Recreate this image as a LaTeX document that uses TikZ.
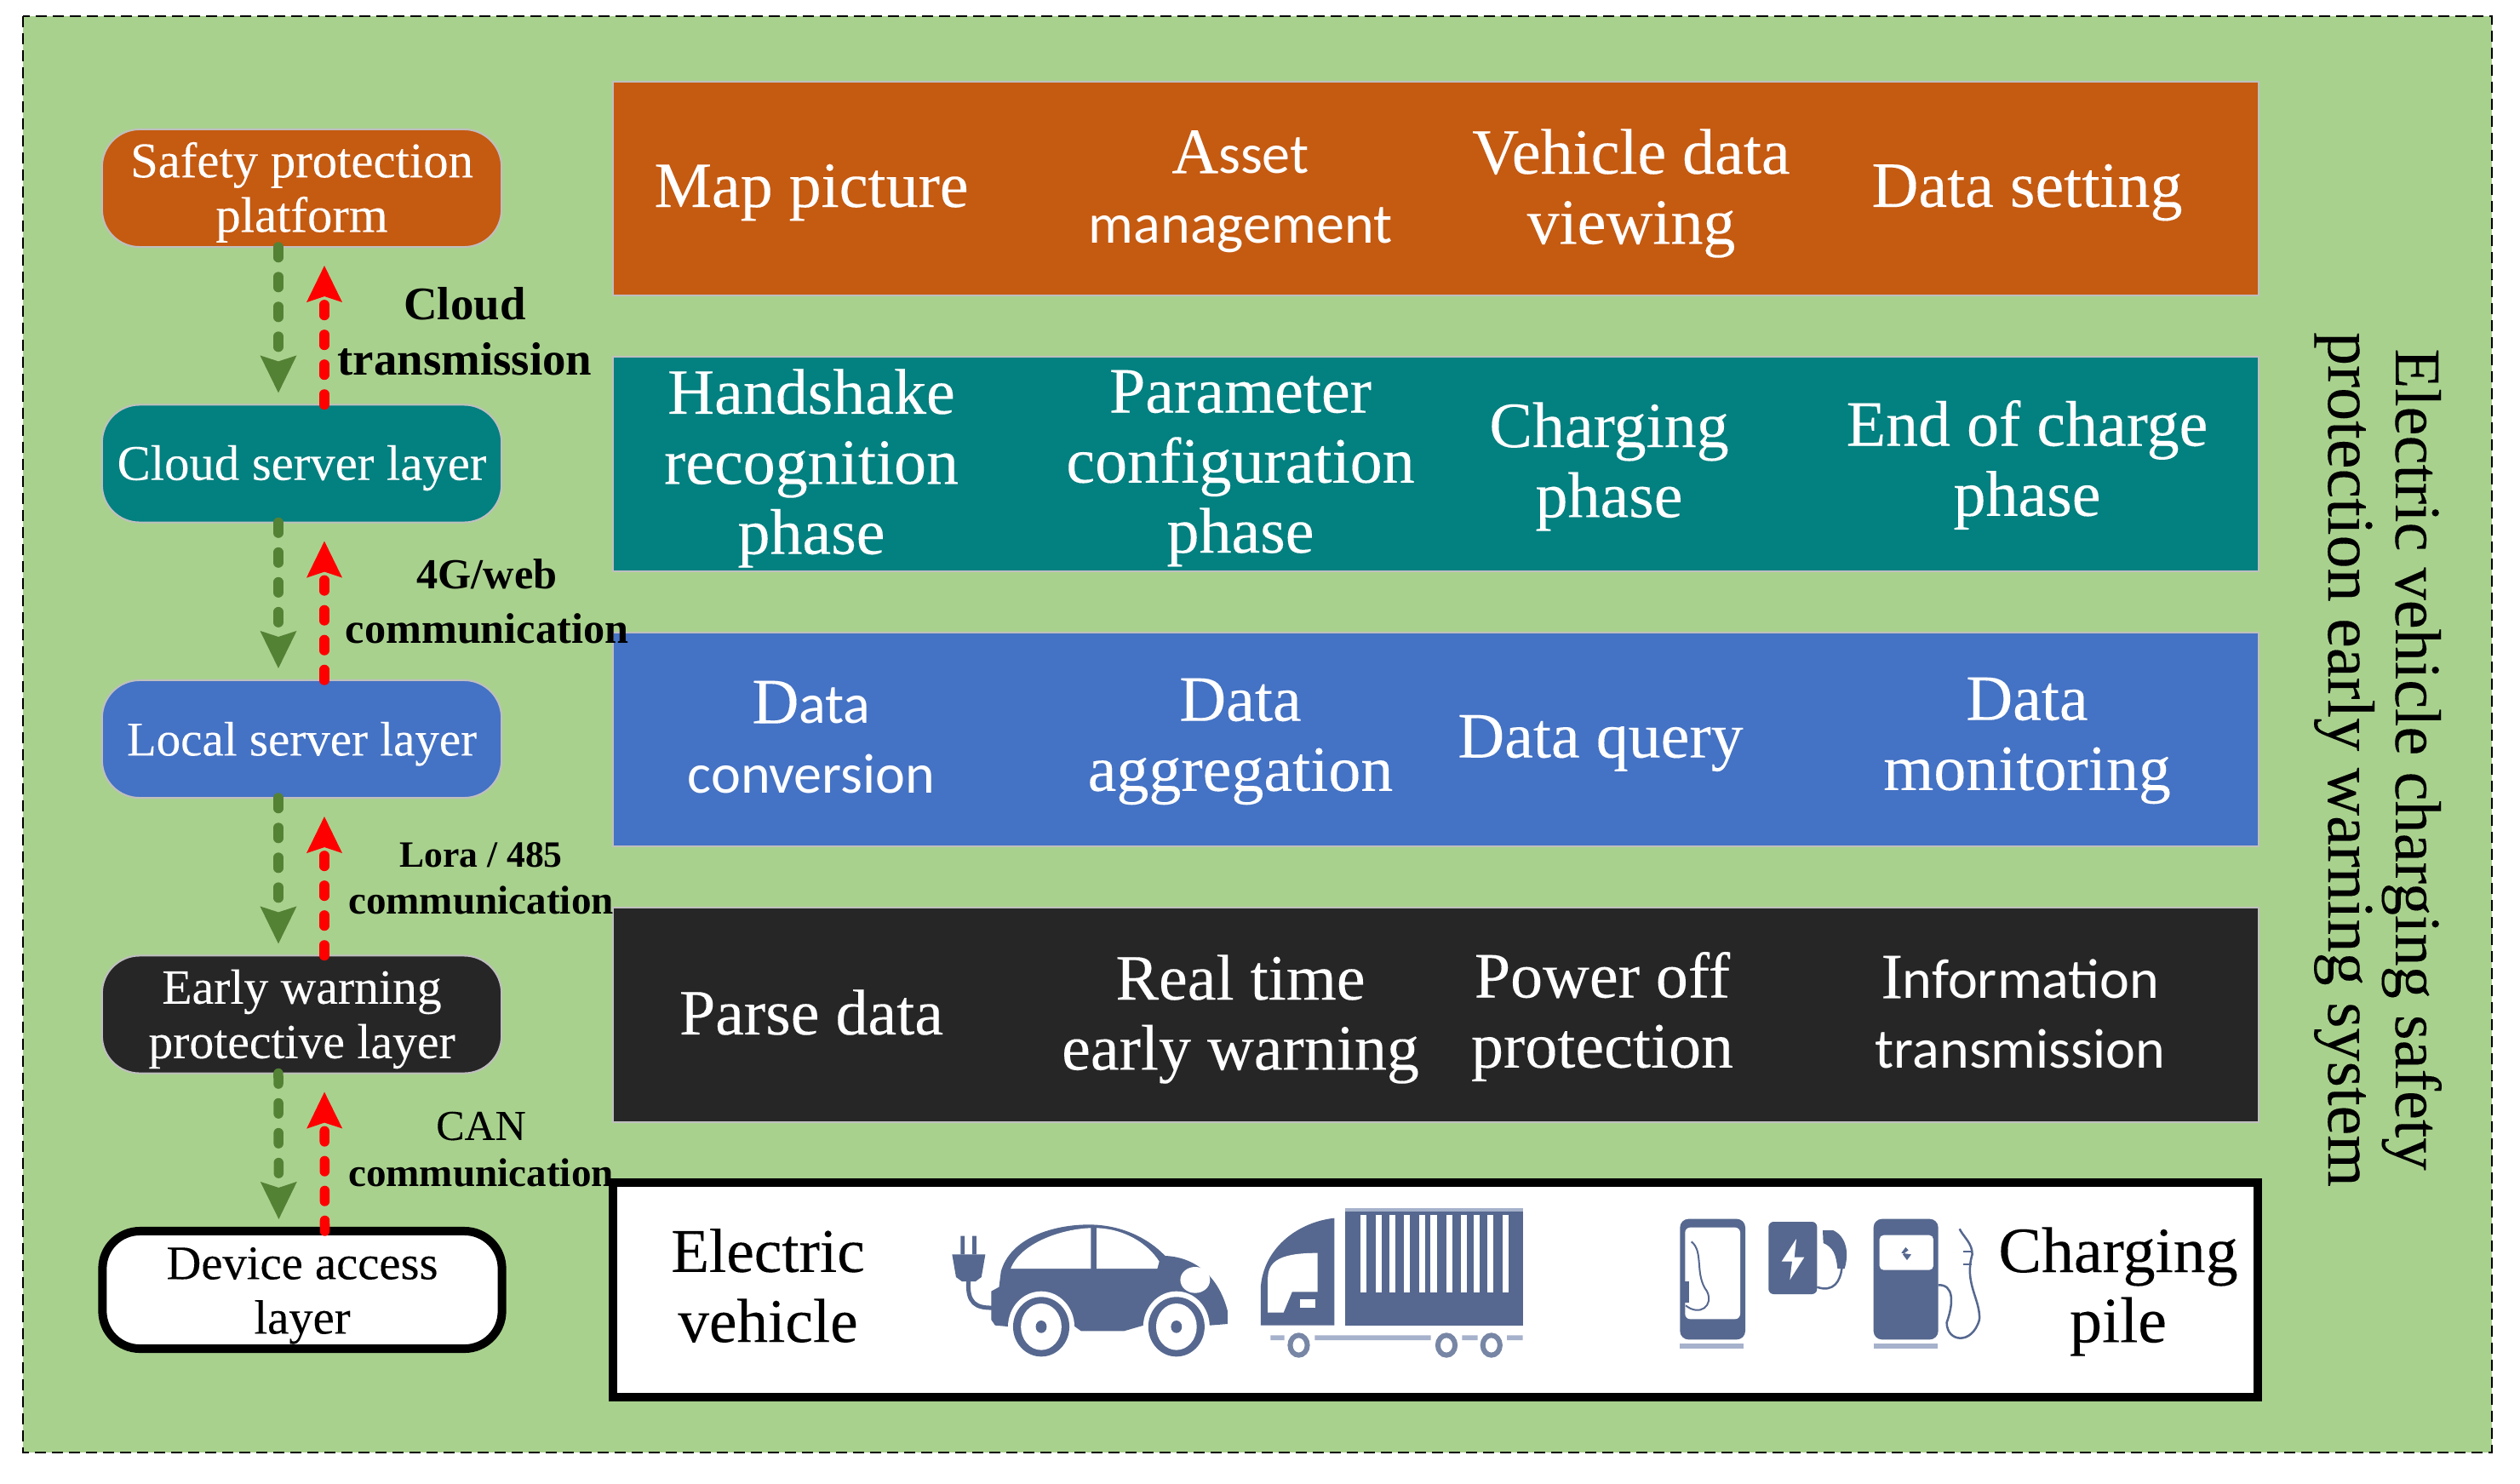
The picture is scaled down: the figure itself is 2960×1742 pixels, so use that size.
\documentclass[tikz,border=0pt]{standalone}
\usepackage{fontspec}
\setmainfont{Liberation Serif}[UprightFeatures={FakeBold=0.15}]
\newfontfamily\carlitofont{Carlito}
\usetikzlibrary{arrows.meta}
\definecolor{leafbg}{HTML}{A9D18E}
\definecolor{rustbox}{HTML}{C55A11}
\definecolor{tealbox}{HTML}{038080}
\definecolor{bluebox}{HTML}{4472C4}
\definecolor{darkbox}{HTML}{262626}
\definecolor{edgegray}{HTML}{BFBFBF}
\definecolor{flowgreen}{HTML}{548235}
\definecolor{iconblue}{HTML}{56688F}
\definecolor{iconlight}{HTML}{A6B1CB}
\newcommand{\rowsans}[1]{{\carlitofont\fontsize{18.8}{23.4}\selectfont #1}}
\newcommand{\liftline}{\rule{0pt}{14.5pt}}
\tikzset{
  layerfont/.style={font=\fontsize{#1}{18.2}\selectfont},
  layerbox/.style={draw=edgegray,line width=0.02cm,rounded corners=0.44cm,outer sep=0pt,
    minimum width=4.69cm,minimum height=1.38cm,inner sep=0pt,align=center,text=white,
    layerfont=16.7},
  rowbox/.style={draw=edgegray,line width=0.02cm,outer sep=0pt,inner sep=0pt,
    minimum width=19.31cm,minimum height=2.515cm},
  rowtext/.style={align=center,inner sep=0pt,text=white,font=\fontsize{21.6}{23.4}\selectfont},
  linktext/.style={align=center,inner sep=0pt,font=\bfseries\fontsize{13.4}{15.6}\selectfont},
  flowdown/.style={draw=flowgreen,line width=0.115cm,line cap=round,dash pattern=on 0.125cm off 0.225cm,
    shorten >=0.14cm,-{Stealth[length=0.44cm,width=0.43cm,inset=0.07cm,line width=0pt]}},
  flowup/.style={draw=red,line width=0.115cm,line cap=round,dash pattern=on 0.125cm off 0.225cm,
    shorten >=0.22cm,-{Stealth[length=0.43cm,width=0.42cm,inset=0.07cm,line width=0pt]}},
}
\begin{document}
\begin{tikzpicture}[x=0.01cm,y=-0.01cm]
  \useasboundingbox (0,0) rectangle (2960,1742);
  \draw [fill=leafbg,line width=0.025cm,dash pattern=on 0.13cm off 0.07cm] (27,19) rectangle (2927,1706);

  % layers on the left
  \node [layerbox,fill=rustbox] (safe) at (354.5,221) {\liftline Safety protection\\platform};
  \node [layerbox,fill=tealbox] (cloud) at (354.5,544.5) {\liftline Cloud server layer};
  \node [layerbox,fill=bluebox,layerfont=16.2] (local) at (354.5,868) {\liftline Local server layer};
  \node [layerbox,fill=darkbox,layerfont=16.4] (warn) at (354.5,1191.5) {\liftline Early warning\\protective layer};
  \node [layerbox,draw=black,fill=white,text=black,line width=0.1cm,layerfont=16.1] (device) at (355,1515) {\liftline Device access\\layer};

  \foreach \upper/\lower in {safe/cloud,cloud/local,local/warn,warn/device}
  {
    \draw [flowdown] ([xshift=-0.275cm]\upper.south) -- ([xshift=-0.275cm]\lower.north);
    \draw [flowup] ([xshift=0.265cm]\lower.north) -- ([xshift=0.265cm]\upper.south);
  }

  % rows on the right
  \node [rowbox,fill=rustbox] (rowa) at (1686.5,221.5) {};
  \node [rowbox,fill=tealbox] (rowb) at (1686.5,545) {};
  \node [rowbox,fill=bluebox] (rowc) at (1686.5,868.5) {};
  \node [rowbox,fill=darkbox] (rowd) at (1686.5,1192) {};
  \node [rowbox,draw=black,fill=white,line width=0.1cm,minimum height=2.52cm] (rowe) at (1686,1515) {};

  \node [rowtext] (map) at (953,226) {Map picture};
  \node [rowtext] (asset) at (1457,225) {A\rowsans{sset}\\\rowsans{management}};
  \node [rowtext] (viewing) at (1916,227) {Vehicle data\\viewing};
  \node [rowtext] (setting) at (2381,226) {Data setting};

  \node [rowtext] (handshake) at (953,550) {Handshake\\recognition\\phase};
  \node [rowtext] (parameter) at (1457,550) {Parameter\\configuration\\phase};
  \node [rowtext] (charging) at (1890,548) {Charging\\phase};
  \node [rowtext] (endcharge) at (2381,546) {End of charge\\phase};

  \node [rowtext] (conversion) at (953,866) {D\rowsans{ata}\\\rowsans{conversion}};
  \node [rowtext] (aggregation) at (1457,871) {Data\\aggregation};
  \node [rowtext] (query) at (1880,873) {Data query};
  \node [rowtext] (monitoring) at (2381,870) {Data\\monitoring};

  \node [rowtext] (parse) at (953,1189) {Parse data};
  \node [rowtext] (realtime) at (1457,1197) {Real time\\early warning};
  \node [rowtext] (poweroff) at (1882,1194) {Power off\\protection};
  \node [rowtext] (information) at (2373,1189) {I\rowsans{nformation}\\\rowsans{transmission}};

  \node [rowtext,text=black,font=\fontsize{20.8}{23.4}\selectfont] (vehicle) at (902,1510) {Electric\\vehicle};
  \node [rowtext,text=black] (pile) at (2488,1517) {Charging\\pile};

  % link labels
  \node [linktext,font=\bfseries\fontsize{15.6}{18.5}\selectfont] (linkcloud) at (546,389) {Cloud\\transmission};
  \node [linktext,font=\bfseries\fontsize{14.3}{18.2}\selectfont] (linkweb) at (572,706) {4G/web\\communication};
  \node [linktext] (linklora) at (565,1032) {{\fontsize{12.4}{15.6}\selectfont Lora / 485}\\communication};
  \node [linktext] (linkcan) at (565,1350) {{\normalfont\fontsize{14.2}{15.6}\selectfont CAN}\\communication};

  \node [rotate=-90,align=center,inner sep=0pt,font=\fontsize{21.75}{22.5}\selectfont] (title) at (2793,892)
    {Electric vehicle charging safety\\{\fontsize{22.2}{22.5}\selectfont protection early warning system}};

  % car
  \begin{scope}[shift={(1100,1410)},xscale=0.459,yscale=0.3333]
    \fill [iconblue] (62,125) rectangle (72,190) (92,125) rectangle (102,190);
    \fill [iconblue] (40,190) -- (125,190) -- (115,270) -- (100,285) -- (65,285) -- (50,270) -- cycle;
    \draw [iconblue,line width=0.05cm] (82,285) .. controls (78,360) and (100,380) .. (145,378);
    \fill [iconblue] (140,320) -- (160,305) -- (165,250) .. controls (190,130) and (300,85) .. (390,85)
      .. controls (470,85) and (540,130) .. (585,195) .. controls (670,200) and (725,280) .. (745,390)
      -- (745,435) -- (700,440) -- (530,440) -- (480,460) -- (370,460) -- (350,440) -- (190,445)
      -- (150,440) -- (140,420) -- cycle;
    \fill [white] (190,240) .. controls (215,150) and (320,100) .. (395,97) -- (395,240) -- cycle;
    \fill [white] (410,97) .. controls (480,100) and (540,150) .. (570,215) -- (565,240) -- (410,240) -- cycle;
    \fill [white] (662,280) ellipse (38 and 46);
    \foreach \wheelx in {268,614}
    {
      \fill [white] (\wheelx,445) ellipse (85 and 125);
      \fill [iconblue] (\wheelx,445) ellipse (72 and 105);
      \fill [white] (\wheelx,445) ellipse (52 and 82);
      \fill [iconblue] (\wheelx,445) ellipse (14 and 22);
    }
    % truck
    \fill [iconblue] (830,440) -- (830,300) .. controls (840,160) and (930,75) .. (1018,62) -- (1018,440) -- cycle;
    \fill [white] (848,395) -- (848,270) .. controls (850,210) and (885,185) .. (975,185) -- (975,322)
      -- (910,322) -- (888,395) -- cycle;
    \fill [white] (930,347) rectangle (970,378);
    \fill [iconlight] (1045,28) rectangle (1500,38);
    \fill [iconblue] (1045,38) rectangle (1500,440);
    \foreach \stripex in {1092,1132,1167,1203,1243,1272,1312,1349,1383,1417,1457}
    {
      \fill [white] (\stripex-8,52) rectangle (\stripex+8,325);
    }
    \fill [iconlight] (855,475) rectangle (890,492) (968,475) rectangle (1265,492)
      (1345,475) rectangle (1385,492) (1460,475) rectangle (1500,492);
    \foreach \axlex in {927,1305,1420}
    {
      \draw [iconblue!80,line width=0.06cm] (\axlex,510) ellipse (22 and 35);
    }
  \end{scope}

  % charging posts
  \begin{scope}[shift={(1940,1410)},scale=0.3333]
    \fill [iconblue,rounded corners=0.1cm] (100,65) rectangle (330,490);
    \fill [white,rounded corners=0.06cm] (118,95) rectangle (312,418);
    \fill [iconlight] (100,503) rectangle (325,522);
    \fill [iconblue] (118,285) rectangle (133,360);
    \draw [iconblue,line width=0.02cm] (140,145) .. controls (185,180) and (150,260) .. (195,320)
      .. controls (220,370) and (170,410) .. (120,370);
    \fill [iconblue,rounded corners=0.06cm] (412,75) rectangle (583,330);
    \fill [white] (510,135) -- (458,215) -- (495,215) -- (487,280) -- (538,200) -- (503,200) -- cycle;
    \fill [iconblue] (603,105) -- (640,105) .. controls (690,130) and (695,190) .. (680,240) -- (655,240)
      .. controls (650,190) and (640,165) .. (605,150) -- cycle;
    \draw [iconblue,line width=0.025cm] (583,305) .. controls (640,325) and (665,285) .. (670,240);
    \fill [iconblue,rounded corners=0.1cm] (782,65) rectangle (1010,490);
    \fill [white,rounded corners=0.05cm] (803,122) rectangle (993,245);
    \fill [iconblue] (895,165) -- (880,185) -- (915,190) -- (900,210) -- (885,190) -- (905,175) -- cycle;
    \fill [iconlight] (782,503) rectangle (1008,522);
    \draw [iconblue,line width=0.025cm] (1010,298) .. controls (1065,295) and (1065,360) .. (1040,430)
      .. controls (1040,500) and (1130,510) .. (1155,420) .. controls (1160,350) and (1100,290) .. (1130,190)
      .. controls (1130,150) and (1100,130) .. (1085,100);
    \draw [iconblue,line width=0.025cm] (1098,180) -- (1132,180) (1098,225) -- (1128,225);
  \end{scope}
\end{tikzpicture}
\end{document}
